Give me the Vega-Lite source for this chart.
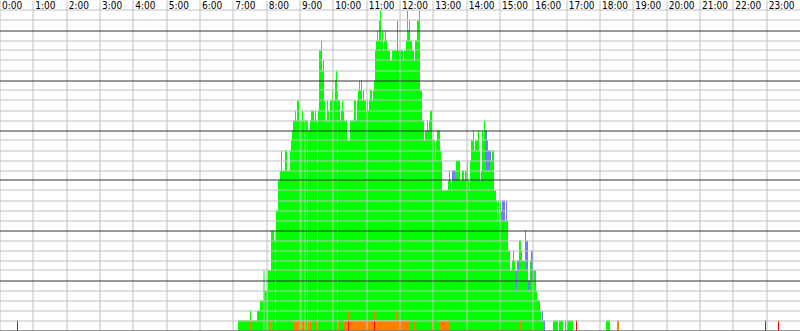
{
"$schema": "https://vega.github.io/schema/vega-lite/v6.json",
"width": 800, "height": 331, "autosize": {"type": "none"}, "padding": 0,
"background": "white",
"config": {"view": {"stroke": null}},
"data": {"values": [
{"s":0.51,"e":0.54,"r":1},
{"s":7.14,"e":7.5,"g":1},
{"s":7.5,"e":7.53,"o":1,"g":1},
{"s":7.53,"e":7.71,"g":1},
{"s":7.71,"e":7.8,"g":2},
{"s":7.8,"e":7.905,"g":3},
{"s":7.905,"e":7.935,"g":6},
{"s":7.935,"e":8.025,"g":4},
{"s":8.025,"e":8.1,"g":6},
{"s":8.1,"e":8.13,"o":1,"g":5},
{"s":8.13,"e":8.16,"o":1,"g":9},
{"s":8.16,"e":8.22,"g":10},
{"s":8.22,"e":8.265,"g":9},
{"s":8.265,"e":8.28,"g":10},
{"s":8.28,"e":8.34,"g":12},
{"s":8.34,"e":8.4,"g":15},
{"s":8.4,"e":8.43,"g":16},
{"s":8.43,"e":8.46,"o":1,"g":17},
{"s":8.46,"e":8.55,"g":16},
{"s":8.55,"e":8.61,"g":18},
{"s":8.61,"e":8.7,"g":16},
{"s":8.7,"e":8.73,"g":18},
{"s":8.73,"e":8.76,"g":19},
{"s":8.76,"e":8.79,"g":20},
{"s":8.79,"e":8.85,"o":1,"g":20},
{"s":8.85,"e":8.88,"o":1,"g":21},
{"s":8.88,"e":8.91,"o":1,"g":20},
{"s":8.91,"e":8.97,"o":1,"g":22},
{"s":8.97,"e":9.0,"o":1,"g":20},
{"s":9.0,"e":9.045,"g":21},
{"s":9.045,"e":9.06,"o":1,"g":20},
{"s":9.06,"e":9.09,"o":1,"g":21},
{"s":9.09,"e":9.129,"g":21},
{"s":9.129,"e":9.159,"o":1,"g":20},
{"s":9.159,"e":9.219,"g":21},
{"s":9.219,"e":9.24,"o":1,"g":20},
{"s":9.24,"e":9.3,"o":1,"g":19},
{"s":9.3,"e":9.33,"o":1,"g":20},
{"s":9.33,"e":9.42,"g":22},
{"s":9.42,"e":9.45,"g":21},
{"s":9.45,"e":9.48,"g":22},
{"s":9.48,"e":9.531,"o":1,"g":20},
{"s":9.531,"e":9.54,"g":21},
{"s":9.54,"e":9.57,"g":22},
{"s":9.57,"e":9.63,"g":28},
{"s":9.63,"e":9.66,"g":29},
{"s":9.66,"e":9.69,"g":26},
{"s":9.69,"e":9.72,"g":27},
{"s":9.72,"e":9.75,"g":23},
{"s":9.75,"e":9.81,"g":21},
{"s":9.81,"e":9.84,"g":23},
{"s":9.84,"e":9.87,"g":22},
{"s":9.87,"e":9.9,"o":1,"g":20},
{"s":9.9,"e":9.96,"g":23},
{"s":9.96,"e":9.99,"g":24},
{"s":9.99,"e":10.05,"g":23},
{"s":10.05,"e":10.08,"g":25},
{"s":10.08,"e":10.11,"g":26},
{"s":10.11,"e":10.131,"g":24},
{"s":10.131,"e":10.14,"o":1,"g":23},
{"s":10.14,"e":10.17,"o":1,"g":22},
{"s":10.17,"e":10.2,"g":23},
{"s":10.2,"e":10.23,"g":21},
{"s":10.23,"e":10.26,"g":22},
{"s":10.26,"e":10.29,"g":23},
{"s":10.29,"e":10.32,"g":22},
{"s":10.32,"e":10.41,"o":1,"g":20},
{"s":10.41,"e":10.44,"o":1,"g":18},
{"s":10.44,"e":10.47,"r":1,"o":1,"g":17},
{"s":10.47,"e":10.5,"o":1,"g":18},
{"s":10.5,"e":10.62,"o":1,"g":20},
{"s":10.62,"e":10.68,"o":1,"g":22},
{"s":10.68,"e":10.71,"o":1,"g":20},
{"s":10.71,"e":10.74,"o":1,"g":22},
{"s":10.74,"e":10.77,"o":1,"g":23},
{"s":10.77,"e":10.8,"o":2,"g":23},
{"s":10.8,"e":10.83,"o":1,"g":23},
{"s":10.83,"e":10.86,"o":1,"g":24},
{"s":10.86,"e":10.89,"o":1,"g":22},
{"s":10.89,"e":10.92,"o":1,"g":23},
{"s":10.92,"e":10.98,"o":1,"g":22},
{"s":10.98,"e":11.01,"o":1,"g":21},
{"s":11.01,"e":11.04,"o":1,"g":22},
{"s":11.04,"e":11.07,"o":1,"g":21},
{"s":11.07,"e":11.1,"o":1,"g":22},
{"s":11.1,"e":11.16,"o":1,"g":23},
{"s":11.16,"e":11.19,"o":1,"g":22},
{"s":11.19,"e":11.22,"o":1,"g":23},
{"s":11.22,"e":11.25,"r":1,"o":1,"g":23},
{"s":11.25,"e":11.28,"o":1,"g":27},
{"s":11.28,"e":11.31,"o":1,"g":28},
{"s":11.31,"e":11.34,"o":1,"g":29},
{"s":11.34,"e":11.37,"o":1,"g":28},
{"s":11.37,"e":11.4,"o":1,"g":30},
{"s":11.4,"e":11.43,"o":1,"g":31},
{"s":11.43,"e":11.46,"o":1,"g":28},
{"s":11.46,"e":11.49,"o":1,"g":29},
{"s":11.49,"e":11.52,"o":1,"g":27},
{"s":11.52,"e":11.55,"o":1,"g":28},
{"s":11.55,"e":11.58,"o":1,"g":29},
{"s":11.58,"e":11.61,"o":1,"g":28},
{"s":11.61,"e":11.7,"o":1,"g":27},
{"s":11.7,"e":11.76,"o":1,"g":26},
{"s":11.76,"e":11.88,"o":1,"g":27},
{"s":11.88,"e":11.91,"o":2,"g":26},
{"s":11.91,"e":11.94,"o":1,"g":24,"b":6},
{"s":11.94,"e":12.09,"o":1,"g":27},
{"s":12.09,"e":12.12,"o":1,"g":26},
{"s":12.12,"e":12.15,"o":1,"g":27},
{"s":12.15,"e":12.18,"o":2,"g":26},
{"s":12.18,"e":12.21,"o":1,"g":28},
{"s":12.21,"e":12.24,"o":1,"g":31},
{"s":12.24,"e":12.27,"o":1,"g":29},
{"s":12.27,"e":12.3,"o":1,"g":30},
{"s":12.3,"e":12.36,"g":29},
{"s":12.36,"e":12.39,"g":28},
{"s":12.39,"e":12.42,"o":1,"g":27},
{"s":12.42,"e":12.45,"o":1,"g":26},
{"s":12.45,"e":12.51,"g":29},
{"s":12.51,"e":12.57,"g":31},
{"s":12.57,"e":12.6,"g":32},
{"s":12.6,"e":12.66,"g":24},
{"s":12.66,"e":12.72,"g":21},
{"s":12.72,"e":12.75,"g":19},
{"s":12.75,"e":12.81,"g":20},
{"s":12.81,"e":12.84,"g":21},
{"s":12.84,"e":12.87,"g":20},
{"s":12.87,"e":12.9,"g":21},
{"s":12.9,"e":12.93,"g":22},
{"s":12.93,"e":12.96,"o":1,"g":21},
{"s":12.96,"e":12.99,"o":1,"g":18},
{"s":12.99,"e":13.05,"g":19},
{"s":13.05,"e":13.08,"g":17},
{"s":13.08,"e":13.11,"g":19},
{"s":13.11,"e":13.17,"g":20},
{"s":13.17,"e":13.2,"o":1,"g":19},
{"s":13.2,"e":13.23,"o":1,"g":17},
{"s":13.23,"e":13.26,"o":1,"g":16},
{"s":13.26,"e":13.44,"o":1,"g":13},
{"s":13.44,"e":13.47,"o":1,"g":14},
{"s":13.47,"e":13.5,"g":16},
{"s":13.5,"e":13.53,"g":15},
{"s":13.53,"e":13.56,"g":14},
{"s":13.56,"e":13.65,"g":15,"b":1},
{"s":13.65,"e":13.68,"g":16},
{"s":13.68,"e":13.8,"g":17},
{"s":13.8,"e":13.86,"g":15},
{"s":13.86,"e":13.92,"g":16},
{"s":13.92,"e":13.95,"g":15},
{"s":13.95,"e":14.01,"g":16},
{"s":14.01,"e":14.04,"g":17},
{"s":14.04,"e":14.07,"g":15},
{"s":14.07,"e":14.1,"g":14},
{"s":14.1,"e":14.13,"g":17},
{"s":14.13,"e":14.19,"g":19},
{"s":14.19,"e":14.22,"g":20},
{"s":14.22,"e":14.25,"g":18},
{"s":14.25,"e":14.31,"g":19},
{"s":14.31,"e":14.34,"o":1,"g":18},
{"s":14.34,"e":14.37,"g":20},
{"s":14.37,"e":14.4,"g":18},
{"s":14.4,"e":14.43,"g":15},
{"s":14.43,"e":14.46,"g":16},
{"s":14.46,"e":14.49,"g":20},
{"s":14.49,"e":14.52,"g":19},
{"s":14.52,"e":14.55,"g":21},
{"s":14.55,"e":14.58,"g":17,"b":3},
{"s":14.58,"e":14.61,"g":16,"b":4},
{"s":14.61,"e":14.64,"g":15,"b":4},
{"s":14.64,"e":14.7,"g":16,"b":2},
{"s":14.7,"e":14.73,"g":17,"b":1},
{"s":14.73,"e":14.76,"g":17},
{"s":14.76,"e":14.82,"g":18},
{"s":14.82,"e":14.88,"g":14},
{"s":14.88,"e":14.91,"g":13},
{"s":14.91,"e":14.94,"g":11},
{"s":14.94,"e":14.97,"g":13},
{"s":14.97,"e":15.0,"g":11},
{"s":15.0,"e":15.03,"g":13},
{"s":15.03,"e":15.06,"g":12},
{"s":15.06,"e":15.09,"g":11,"b":2},
{"s":15.09,"e":15.12,"g":10,"b":3},
{"s":15.12,"e":15.15,"g":11,"b":2},
{"s":15.15,"e":15.18,"g":11},
{"s":15.18,"e":15.21,"g":11,"b":2},
{"s":15.21,"e":15.24,"g":11},
{"s":15.24,"e":15.3,"g":8},
{"s":15.3,"e":15.36,"g":6},
{"s":15.36,"e":15.39,"g":7},
{"s":15.39,"e":15.42,"g":8},
{"s":15.42,"e":15.45,"g":7},
{"s":15.45,"e":15.48,"g":6},
{"s":15.48,"e":15.51,"g":4,"b":2},
{"s":15.51,"e":15.57,"g":6,"b":1},
{"s":15.57,"e":15.6,"g":9},
{"s":15.6,"e":15.63,"o":1,"g":8},
{"s":15.63,"e":15.66,"g":8},
{"s":15.66,"e":15.75,"g":7},
{"s":15.75,"e":15.78,"g":7,"b":3},
{"s":15.78,"e":15.84,"g":6,"b":3},
{"s":15.84,"e":15.9,"g":4,"b":1},
{"s":15.9,"e":15.93,"g":7},
{"s":15.93,"e":15.99,"g":5,"b":3},
{"s":15.99,"e":16.08,"g":6},
{"s":16.08,"e":16.11,"g":4},
{"s":16.11,"e":16.2,"g":3},
{"s":16.2,"e":16.23,"g":2},
{"s":16.23,"e":16.26,"g":1},
{"s":16.26,"e":16.29,"g":1,"b":1},
{"s":16.29,"e":16.32,"g":1},
{"s":16.32,"e":16.35,"b":1},
{"s":16.59,"e":16.74,"g":1},
{"s":16.77,"e":16.89,"g":1},
{"s":16.95,"e":16.98,"o":1},
{"s":17.01,"e":17.19,"g":1},
{"s":17.28,"e":17.31,"r":1},
{"s":18.18,"e":18.3,"g":1},
{"s":18.51,"e":18.57,"o":1},
{"s":22.95,"e":22.98,"r":1},
{"s":23.34,"e":23.37,"r":1}
]},
"transform": [
  {"fold": ["r", "o", "g", "b"], "as": ["k", "v"]},
  {"filter": "datum.v > 0"},
  {"stack": "v", "groupby": ["s"], "sort": [{"field": "k", "order": "descending"}], "as": ["y0", "y1"]}
],
"mark": {"type": "rect"},
"encoding": {
  "x": {"field": "s", "type": "quantitative",
    "scale": {"domain": [0, 24], "range": [0, 800], "nice": false, "zero": false},
    "axis": {"orient": "top", "values": [0,1,2,3,4,5,6,7,8,9,10,11,12,13,14,15,16,17,18,19,20,21,22,23],
      "grid": true, "gridColor": "#c0c0c0", "gridWidth": 1, "gridOpacity": 1,
      "ticks": false, "tickSize": 0, "domain": false,
      "labelAlign": "left", "labelBaseline": "alphabetic", "labelPadding": -9, "labelOffset": 2,
      "labelFont": "Liberation Sans Narrow, DejaVu Sans Condensed, sans-serif", "labelFontSize": 10, "labelColor": "#000000",
      "labelExpr": "datum.value + ':00'", "labelOverlap": false, "labelFlush": false, "labelBound": false,
      "zindex": 1, "translate": 0, "title": null}},
  "x2": {"field": "e"},
  "y": {"field": "y0", "type": "quantitative",
    "scale": {"domain": [0, 33], "range": [330.5, 0.5], "nice": false, "zero": false},
    "axis": {"values": [0,1,2,3,4,5,6,7,8,9,10,11,12,13,14,15,16,17,18,19,20,21,22,23,24,25,26,27,28,29,30,31,32],
      "grid": true, "gridColor": {"condition": {"test": "datum.value % 5 === 0", "value": "#333333"}, "value": "#c0c0c0"},
      "gridWidth": 1, "gridOpacity": 1,
      "labels": false, "ticks": false, "domain": false, "zindex": 2, "translate": 0, "title": null}},
  "y2": {"field": "y1"},
  "color": {"field": "k", "type": "nominal",
    "scale": {"domain": ["r", "o", "g", "b"], "range": ["#ff0000", "#ff8000", "#00ff00", "#7878ff"]},
    "legend": null}
}
}
